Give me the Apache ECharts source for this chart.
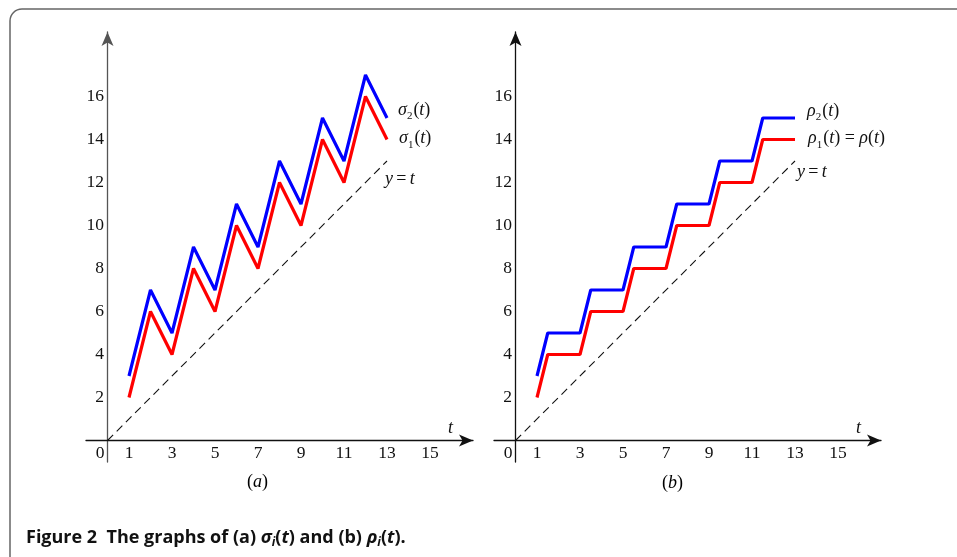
<!DOCTYPE html>
<html>
<head>
<meta charset="utf-8">
<script src="https://cdn.jsdelivr.net/npm/echarts@6/dist/echarts.min.js"></script>
<style>
html,body{margin:0;padding:0;background:#fff}
#main{width:957px;height:557px}
</style>
</head>
<body>
<div id="main"></div>
<script>
// (a) zigzag curves
const tA = [1, 2, 3, 4, 5, 6, 7, 8, 9, 10, 11, 12, 13]
const sigma1 = [2, 6, 4, 8, 6, 10, 8, 12, 10, 14, 12, 16, 14]
const sigma2 = [3, 7, 5, 9, 7, 11, 9, 13, 11, 15, 13, 17, 15]
// (b) staircase curves
const tB = [1, 1.5, 3, 3.5, 5, 5.5, 7, 7.5, 9, 9.5, 11, 11.5, 13]
const rho1 = [2, 4, 4, 6, 6, 8, 8, 10, 10, 12, 12, 14, 14]
const rho2 = [3, 5, 5, 7, 7, 9, 9, 11, 11, 13, 13, 15, 15]
// y = t
const tLine = [0, 13]
const xTicks = [1, 3, 5, 7, 9, 11, 13, 15]
const yTicks = [2, 4, 6, 8, 10, 12, 14, 16]

const chartDom = document.getElementById('main')
let myChart = echarts.init(chartDom)

const serif = 'Liberation Serif'
const pairs = (xs, ys) => xs.map((x, i) => [x, ys[i]])

// main glyphs lifted a little so the subscript sits lower
const rich = {
    i: { fontFamily: serif, fontStyle: 'italic', fontSize: 18, color: '#111', lineHeight: 22, verticalAlign: 'bottom', padding: [0, 0, 3, 0] },
    n: { fontFamily: serif, fontSize: 18, color: '#111', lineHeight: 22, verticalAlign: 'bottom', padding: [0, 0, 3, 0] },
    s: { fontFamily: serif, fontSize: 11, color: '#111', lineHeight: 22, verticalAlign: 'bottom', padding: [0, 1, 0, 0] }
}

function xAxisOf(idx) {
    return {
        type: 'value', gridIndex: idx, min: -1, max: 17, interval: 1,
        name: 't', nameLocation: 'end', nameGap: -25,
        nameTextStyle: { fontFamily: serif, fontStyle: 'italic', fontSize: 18, color: '#111', verticalAlign: 'bottom', lineHeight: 18, padding: [0, 0, 3, 0] },
        axisLine: { onZero: true, symbol: ['none', 'arrow'], symbolSize: [9, 14], lineStyle: { color: '#111', width: 1.3 } },
        axisTick: { show: false },
        splitLine: { show: false },
        axisLabel: {
            fontFamily: serif, fontSize: 17.5, color: '#111', margin: -18,
            formatter: v => v === 0 ? '{z|0}' : (xTicks.includes(v) ? String(v) : ''),
            rich: { z: { fontFamily: serif, fontSize: 17.5, color: '#111', padding: [0, 15, 0, 0] } }
        }
    }
}
function yAxisOf(idx, col) {
    return {
        type: 'value', gridIndex: idx, min: -1, max: 19, interval: 1,
        axisLine: { onZero: true, symbol: ['none', 'arrow'], symbolSize: [9, 14], lineStyle: { color: col, width: 1.3 } },
        axisTick: { show: false },
        splitLine: { show: false },
        axisLabel: {
            fontFamily: serif, fontSize: 17.5, color: '#111', margin: -18,
            formatter: v => yTicks.includes(v) ? String(v) : ''
        }
    }
}

function curve(idx, data, color, label, off) {
    return {
        type: 'line', xAxisIndex: idx, yAxisIndex: idx, data: data,
        showSymbol: false, symbol: 'none', silent: true,
        lineStyle: { color: color, width: 3.2, type: 'solid' },
        endLabel: { show: true, formatter: label, distance: 0, offset: off, align: 'left', rich: rich }
    }
}

let option;
option = {
    animation: false,
    title: {
        left: 26, top: 525, padding: 0,
        text: '{b|Figure 2  The graphs of (a) }{bi|σ}{bs|i}{b|(}{bi|t}{b|) and (b) }{bi|ρ}{bs|i}{b|(}{bi|t}{b|).}',
        textStyle: {
            rich: {
                b: { fontFamily: 'Open Sans', fontWeight: 'bold', fontSize: 18, color: '#111', lineHeight: 24, verticalAlign: 'bottom', padding: [0, 0, 2, 0] },
                bi: { fontFamily: 'Open Sans', fontWeight: 'bold', fontStyle: 'italic', fontSize: 18, color: '#111', lineHeight: 24, verticalAlign: 'bottom', padding: [0, 0, 2, 0] },
                bs: { fontFamily: 'Open Sans', fontWeight: 'bold', fontStyle: 'italic', fontSize: 12, color: '#111', lineHeight: 24, verticalAlign: 'bottom' }
            }
        }
    },
    grid: [
        { left: 86, top: 32, width: 387, height: 430 },
        { left: 494, top: 32, width: 387, height: 430 }
    ],
    xAxis: [xAxisOf(0), xAxisOf(1)],
    yAxis: [yAxisOf(0, '#555'), yAxisOf(1, '#111')],
    series: [
        {
            type: 'line', xAxisIndex: 0, yAxisIndex: 0, data: pairs(tLine, tLine),
            showSymbol: false, symbol: 'none', silent: true,
            lineStyle: { color: '#111', width: 1.1, type: [8, 5] },
            endLabel: { show: true, formatter: '{i|y} {n|=} {i|t}', distance: 0, offset: [-2, 19], align: 'left', rich: rich }
        },
        curve(0, pairs(tA, sigma1), '#ff0000', '{i|σ}{s|1}{n|(}{i|t}{n|)}', [12, 0]),
        curve(0, pairs(tA, sigma2), '#0000ff', '{i|σ}{s|2}{n|(}{i|t}{n|)}', [11, -7]),
        {
            type: 'line', xAxisIndex: 1, yAxisIndex: 1, data: pairs(tLine, tLine),
            showSymbol: false, symbol: 'none', silent: true,
            lineStyle: { color: '#111', width: 1.1, type: [8, 5] },
            endLabel: { show: true, formatter: '{i|y} {n|=} {i|t}', distance: 0, offset: [2, 12], align: 'left', rich: rich }
        },
        curve(1, pairs(tB, rho1), '#ff0000', '{i|ρ}{s|1}{n|(}{i|t}{n|) = }{i|ρ}{n|(}{i|t}{n|)}', [13, 0]),
        curve(1, pairs(tB, rho2), '#0000ff', '{i|ρ}{s|2}{n|(}{i|t}{n|)}', [12, -6])
    ],
    graphic: [
        {
            type: 'rect', z: -1, silent: true,
            shape: { x: 10, y: 9, width: 990, height: 600, r: 12 },
            style: { fill: 'none', stroke: '#666', lineWidth: 1.5 }
        },
        {
            type: 'text', left: 247, top: 473, silent: true,
            style: { text: '{n|(}{i|a}{n|)}', rich: rich }
        },
        {
            type: 'text', left: 662, top: 474, silent: true,
            style: { text: '{n|(}{i|b}{n|)}', rich: rich }
        }
    ]
}

option && myChart.setOption(option);
</script>
</body>
</html>
